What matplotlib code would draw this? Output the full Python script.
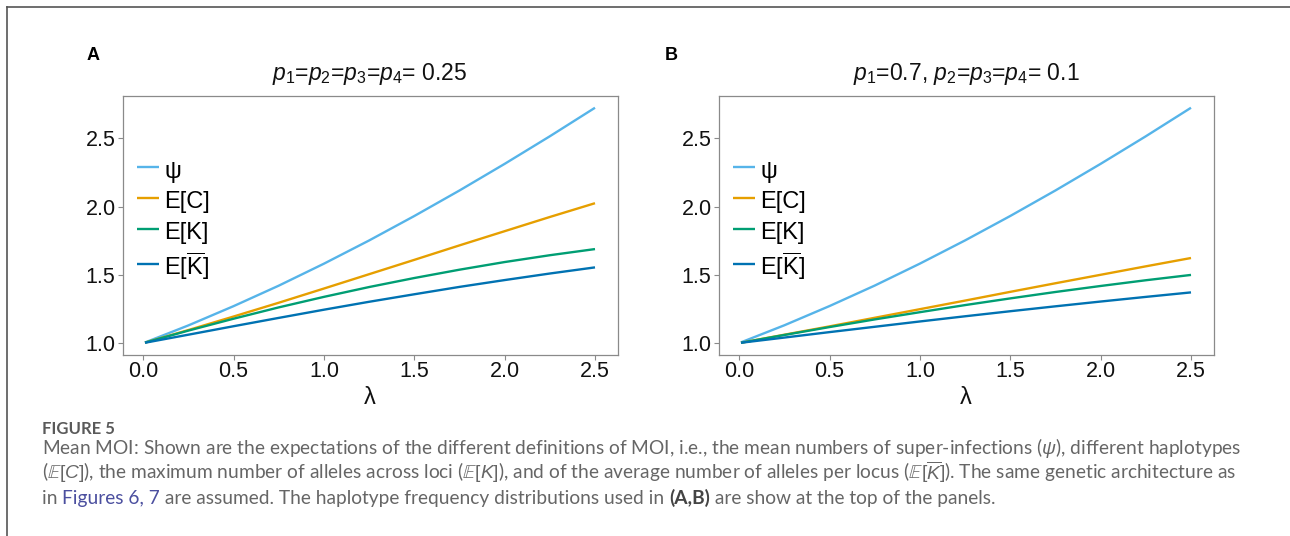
import matplotlib
matplotlib.use("Agg")
import matplotlib.pyplot as plt
from matplotlib.lines import Line2D

plt.rcParams["font.family"] = ["Liberation Sans", "DejaVu Sans"]
plt.rcParams["mathtext.fontset"] = "custom"
plt.rcParams["mathtext.rm"] = "Liberation Sans"
plt.rcParams["mathtext.it"] = "Liberation Sans:italic"
plt.rcParams["mathtext.bf"] = "Liberation Sans:bold"
plt.rcParams["mathtext.fallback"] = "stix"

# values
lam = [0.01, 0.25, 0.5, 0.75, 1.0, 1.25, 1.5, 1.75, 2.0, 2.25, 2.5]
psi = [1.005, 1.130, 1.271, 1.421, 1.582, 1.752, 1.931, 2.118, 2.313, 2.515, 2.724]

ec_a = [1.004, 1.096, 1.195, 1.296, 1.400, 1.505, 1.610, 1.716, 1.820, 1.924, 2.025]
ek_a = [1.004, 1.092, 1.179, 1.262, 1.339, 1.411, 1.477, 1.538, 1.594, 1.644, 1.689]
ekbar_a = [1.003, 1.062, 1.124, 1.185, 1.245, 1.303, 1.358, 1.412, 1.462, 1.510, 1.555]

ec_b = [1.002, 1.061, 1.122, 1.185, 1.248, 1.311, 1.375, 1.438, 1.500, 1.562, 1.623]
ek_b = [1.002, 1.059, 1.117, 1.173, 1.226, 1.278, 1.327, 1.374, 1.418, 1.460, 1.499]
ekbar_b = [1.002, 1.040, 1.080, 1.119, 1.158, 1.196, 1.233, 1.269, 1.304, 1.338, 1.371]

series_labels = ["ψ", "E[C]", "E[K]", r"E[$\overline{\mathrm{K}}$]"]
colors = ["#56B4E9", "#E69F00", "#009E73", "#0072B2"]
panel_titles = [r"$p_1$=$p_2$=$p_3$=$p_4$= 0.25", r"$p_1$=0.7, $p_2$=$p_3$=$p_4$= 0.1"]
panel_tags = ["A", "B"]
xticks = [0.0, 0.5, 1.0, 1.5, 2.0, 2.5]
yticks = [1.0, 1.5, 2.0, 2.5]

W, H = 1290, 536
fig = plt.figure(figsize=(W / 100, H / 100), dpi=100)

panels = [
    (122.5, 87, [psi, ec_a, ek_a, ekbar_a]),
    (718.5, 665, [psi, ec_b, ek_b, ekbar_b]),
]
for i, (left_px, tag_px, ys) in enumerate(panels):
    ax = fig.add_axes([left_px / W, 1 - 354.5 / H, 495 / W, 258.5 / H])
    for y, c, lab in zip(ys, colors, series_labels):
        ax.plot(lam, y, color=c, lw=1.7, label=lab, solid_capstyle="butt")
    ax.margins(x=0.05, y=0.05)
    ax.set_xticks(xticks)
    ax.set_xticklabels([f"{t:.1f}" for t in xticks])
    ax.set_yticks(yticks)
    ax.set_yticklabels([f"{t:.1f}" for t in yticks])
    for s in ax.spines.values():
        s.set_color("#8a8a8a")
        s.set_linewidth(0.9)
    ax.tick_params(length=3.5, width=0.8, color="#8a8a8a", labelsize=15.5,
                   labelcolor="#111111", pad=1.5)
    ax.set_xlabel("λ", fontsize=17, labelpad=3, color="#111111")
    ax.text(0.5, 1.085, panel_titles[i], transform=ax.transAxes, ha="center",
            va="center", fontsize=16.5, color="#111111")
    ax.legend(loc="upper left", bbox_to_anchor=(0.029, 0.765), frameon=False,
              fontsize=17, handlelength=0.95, handletextpad=0.22,
              handleheight=1.3, labelspacing=0.22, borderpad=0, borderaxespad=0)
    fig.text(tag_px / W, 1 - 47 / H, panel_tags[i],
             fontsize=13, fontweight="bold", va="top", ha="left")

# outer frame
fig.add_artist(Line2D([7 / W, 1], [1 - 7 / H, 1 - 7 / H], transform=fig.transFigure,
                      color="#555555", lw=1.2))
fig.add_artist(Line2D([7 / W, 7 / W], [0, 1 - 7 / H], transform=fig.transFigure,
                      color="#555555", lw=1.2))

# caption
cap = fig.add_axes([0, 0, 1, 1])
cap.axis("off")
cap.set_xlim(0, W)
cap.set_ylim(H, 0)
gray = "#666666"
cf = ["Lato", "DejaVu Sans"]
cs = 13.8
cap.text(42, 434, "FIGURE 5", fontsize=12, fontweight="bold", color="#5a5a5a",
         family=cf, va="baseline")
line1 = ("Mean MOI: Shown are the expectations of the different definitions of MOI, "
         r"i.e., the mean numbers of super-infections ($\psi$), different haplotypes")
line2 = (r"($\mathbb{E}[C]$), the maximum number of alleles across loci ($\mathbb{E}[K]$), "
         r"and of the average number of alleles per locus ($\mathbb{E}[\overline{K}]$). "
         "The same genetic architecture as")
cap.text(42, 454, line1, fontsize=cs, color=gray, family=cf, va="baseline")
cap.text(42, 479, line2, fontsize=cs, color=gray, family=cf, va="baseline")

segments = [("in ", gray, "normal"), ("Figures 6, 7", "#4b4f9f", "normal"),
            (" are assumed. The haplotype frequency distributions used in ", gray, "normal"),
            ("(A,B)", "#444444", "bold"),
            (" are show at the top of the panels.", gray, "normal")]
prev = cap.text(42, 504, segments[0][0], fontsize=cs, color=segments[0][1],
                family=cf, va="baseline")
for txt, col, wt in segments[1:]:
    prev = cap.annotate(txt, xy=(1, 0), xycoords=prev, va="bottom", ha="left",
                        fontsize=cs, color=col, family=cf, fontweight=wt)

fig.savefig("out.png", dpi=100)
